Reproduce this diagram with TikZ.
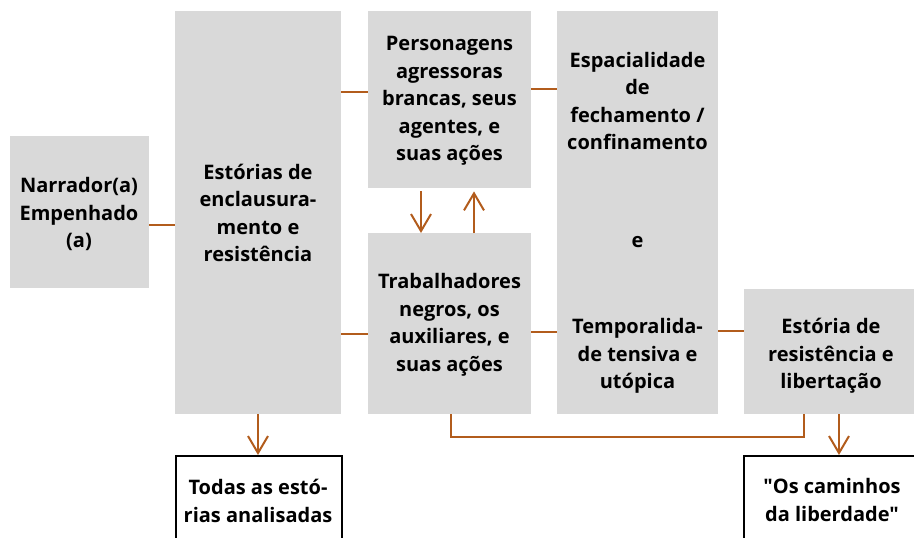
\documentclass[tikz,border=0pt]{standalone}
\usepackage{fontspec}
\newfontfamily\osans{Open Sans}
\usetikzlibrary{arrows.meta}
\definecolor{boxgray}{RGB}{217,217,217}
\definecolor{linebrown}{RGB}{178,92,28}
\begin{document}
\begin{tikzpicture}[x=1pt,y=-1pt,
  lbl/.style={font=\osans\bfseries\fontsize{20}{27.5}\selectfont, align=center, inner sep=0pt},
  box/.style={lbl, fill=boxgray, draw=none, anchor=north west},
  outbox/.style={lbl, fill=white, draw=black, line width=2.2pt, anchor=north west},
  conn/.style={draw=linebrown, line width=2pt},
  arr/.style={conn, -{Straight Barb[length=17pt,width=20pt]}}]
\useasboundingbox (0,0) rectangle (914,538);
\clip (0,0) rectangle (914,538);
% boxes
\node[box, minimum width=139pt, minimum height=152pt] (nar) at (10,136) {};
\node[lbl] (narT) at (79,214) {Narrador(a)\\Empenhado\\(a)};
\node[box, minimum width=166pt, minimum height=403pt] (est) at (175,11) {};
\node[lbl] (estT) at (258,213) {Estórias de\\enclausura-\\mento e\\resistência};
\node[box, minimum width=163pt, minimum height=177pt] (per) at (368,11) {};
\node[lbl] (perT) at (449.5,101) {Personagens\\agressoras\\brancas, seus\\agentes, e\\suas ações};
\node[box, minimum width=163pt, minimum height=181pt] (tra) at (368,233) {};
\node[lbl] (traT) at (449.5,325) {Trabalhadores\\negros, os\\auxiliares, e\\suas ações};
\node[box, minimum width=161pt, minimum height=403pt] (esp) at (557,11) {};
\node[lbl] (espA) at (637.5,101) {Espacialidade\\de\\fechamento /\\confinamento};
\node[lbl] (espB) at (637.5,242) {e};
\node[lbl] (espC) at (637.5,356) {Temporalida-\\de tensiva e\\utópica};
\node[box, minimum width=176pt, minimum height=125pt] (res) at (744,289) {};
\node[lbl] (resT) at (831,356) {Estória de\\resistência e\\libertação};
\node[outbox, minimum width=166pt, minimum height=120pt] (tod) at (175,455) {};
\node[lbl] (todT) at (258,501) {Todas as estó-\\rias analisadas};
\node[outbox, minimum width=184pt, minimum height=120pt] (cam) at (743,455) {};
\node[lbl] (camT) at (832,500) {"Os caminhos\\da liberdade"};
% connectors
\draw[conn] (nar.east |- 0,225) -- (est.west |- 0,225);
\draw[conn] (est.east |- 0,92) -- (per.west |- 0,92);
\draw[conn] (est.east |- 0,334) -- (tra.west |- 0,334);
\draw[conn] (per.east |- 0,89) -- (esp.west |- 0,89);
\draw[conn] (tra.east |- 0,332) -- (esp.west |- 0,332);
\draw[conn] (esp.east |- 0,331) -- (res.west |- 0,331);
\draw[arr, shorten <=3pt] (per.south -| 421,0) -- (tra.north -| 421,0);
\draw[arr, shorten >=3pt] (tra.north -| 474,0) -- (per.south -| 474,0);
\draw[arr] (est.south -| 258,0) -- (tod.north -| 258,0);
\draw[arr] (res.south -| 839,0) -- (cam.north -| 839,0);
\coordinate (bl) at (451,437);
\coordinate (br) at (804,437);
\draw[conn] (tra.south -| bl) -- (bl) -- (br) -- (res.south -| br);
\end{tikzpicture}
\end{document}
